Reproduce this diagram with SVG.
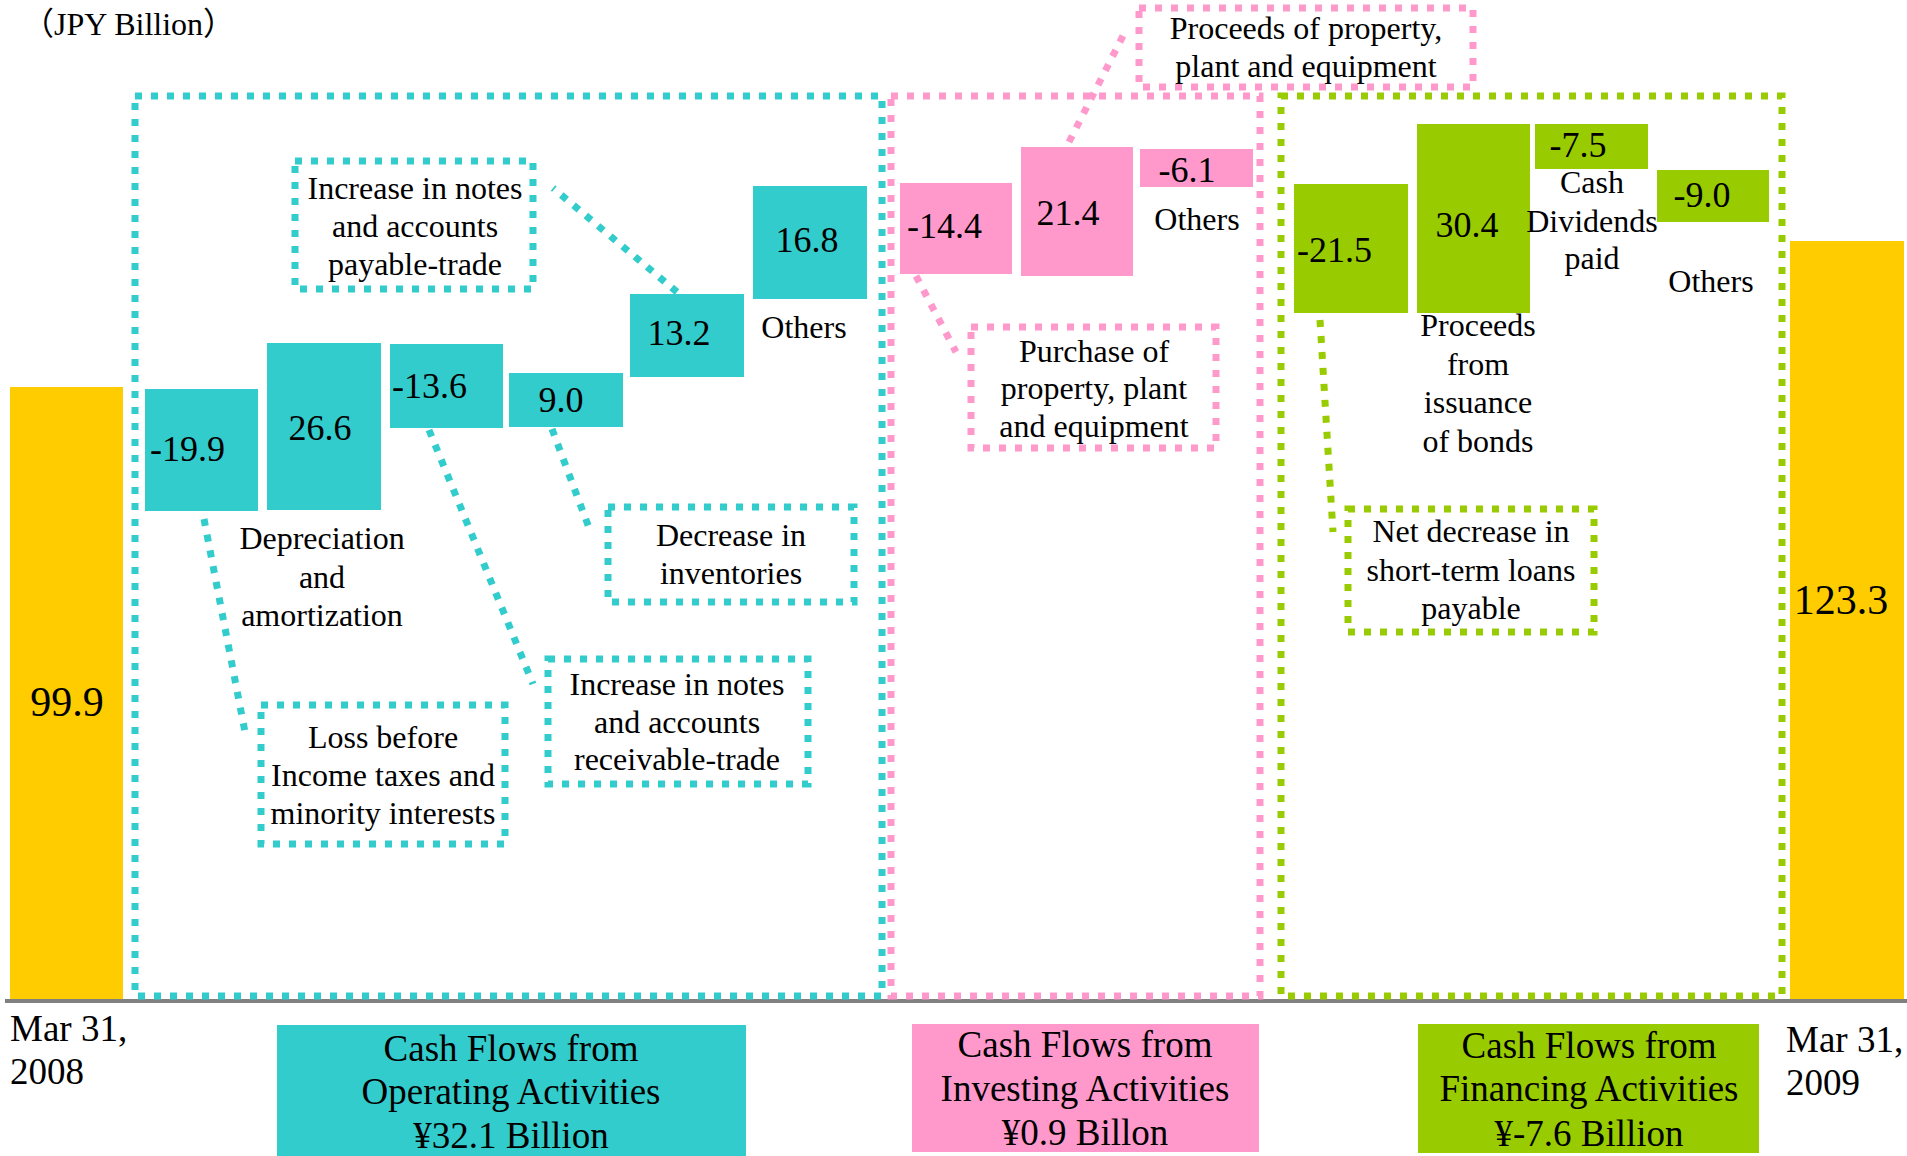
<svg xmlns="http://www.w3.org/2000/svg" width="1907" height="1156" viewBox="0 0 1907 1156">
<style>
text{font-family:"Liberation Serif","Times New Roman","Noto Sans CJK JP",serif;fill:#000}
.l{font-size:32px;text-anchor:middle}
.n{font-size:36px}
.c{text-anchor:middle}
.big{font-size:42px;text-anchor:middle}
.b{font-size:37px}
.dt{fill:none;stroke-width:7;stroke-dasharray:7 9}
.tl{stroke:#33CCCC}.pk{stroke:#FF99CC}.gr{stroke:#99CC00}
.ft{fill:#33CCCC}.fp{fill:#FF99CC}.fg{fill:#99CC00}.fy{fill:#FFCC00}
</style>
<rect width="1907" height="1156" fill="#fff"/>
<text x="22" y="35" style="font-size:32px">（JPY Billion）</text>

<g id="start-bar">
<rect class="fy" x="10" y="387" width="113" height="613"/>
<text class="big" x="67" y="716">99.9</text>
</g>
<g id="end-bar">
<rect class="fy" x="1790" y="241" width="114" height="759"/>
<text class="big" x="1841" y="614">123.3</text>
</g>
<line x1="5" y1="1001" x2="1907" y2="1001" stroke="#808080" stroke-width="4"/>

<g id="operating-frame"><rect class="dt tl" x="135" y="96" width="747" height="900"/></g>
<g id="investing-frame"><rect class="dt pk" x="891" y="96" width="369" height="900"/></g>
<g id="financing-frame"><rect class="dt gr" x="1281" y="96" width="501" height="900"/></g>

<g id="op-loss"><rect class="ft" x="145" y="389" width="113" height="122"/><text class="n" x="150" y="461">-19.9</text></g>
<g id="op-dep"><rect class="ft" x="267" y="343" width="114" height="167"/><text class="n c" x="320" y="440">26.6</text>
<text class="l" x="322" y="549">Depreciation</text><text class="l" x="322" y="588">and</text><text class="l" x="322" y="626">amortization</text></g>
<g id="op-recv"><rect class="ft" x="390" y="344" width="113" height="84"/><text class="n" x="392" y="398">-13.6</text></g>
<g id="op-inv"><rect class="ft" x="509" y="373" width="114" height="54"/><text class="n c" x="561" y="412">9.0</text></g>
<g id="op-pay"><rect class="ft" x="630" y="294" width="114" height="83"/><text class="n c" x="679" y="345">13.2</text></g>
<g id="op-others"><rect class="ft" x="753" y="186" width="114" height="113"/><text class="n c" x="807" y="252">16.8</text>
<text class="l" x="804" y="338">Others</text></g>

<g id="lbl-payable"><rect class="dt tl" x="295" y="161" width="238" height="128"/>
<text class="l" x="415" y="199">Increase in notes</text><text class="l" x="415" y="237">and accounts</text><text class="l" x="415" y="275">payable-trade</text></g>
<g id="lbl-loss"><rect class="dt tl" x="261" y="705" width="244" height="139"/>
<text class="l" x="383" y="748">Loss before</text><text class="l" x="383" y="786">Income taxes and</text><text class="l" x="383" y="824">minority interests</text></g>
<g id="lbl-recv"><rect class="dt tl" x="548" y="659" width="260" height="125"/>
<text class="l" x="677" y="695">Increase in notes</text><text class="l" x="677" y="733">and accounts</text><text class="l" x="677" y="770">receivable-trade</text></g>
<g id="lbl-inv"><rect class="dt tl" x="608" y="507" width="246" height="95"/>
<text class="l" x="731" y="546">Decrease in</text><text class="l" x="731" y="584">inventories</text></g>

<g id="inv-purchase"><rect class="fp" x="900" y="183" width="112" height="91"/><text class="n" x="907" y="238">-14.4</text></g>
<g id="inv-proceeds"><rect class="fp" x="1021" y="147" width="112" height="129"/><text class="n c" x="1068" y="225">21.4</text></g>
<g id="inv-others"><rect class="fp" x="1140" y="149" width="113" height="38"/><text class="n c" x="1187" y="182">-6.1</text>
<text class="l" x="1197" y="230">Others</text></g>
<g id="lbl-purchase"><rect class="dt pk" x="971" y="327" width="245" height="121"/>
<text class="l" x="1094" y="362">Purchase of</text><text class="l" x="1094" y="399">property, plant</text><text class="l" x="1094" y="437">and equipment</text></g>
<g id="lbl-proceeds"><rect class="dt pk" x="1139" y="8" width="334" height="79"/>
<text class="l" x="1306" y="39">Proceeds of property,</text><text class="l" x="1306" y="77">plant and equipment</text></g>

<g id="fin-loans"><rect class="fg" x="1294" y="184" width="114" height="129"/><text class="n" x="1297" y="262">-21.5</text></g>
<g id="fin-bonds"><rect class="fg" x="1417" y="124" width="113" height="189"/><text class="n c" x="1467" y="237">30.4</text>
<text class="l" x="1478" y="336">Proceeds</text><text class="l" x="1478" y="375">from</text><text class="l" x="1478" y="413">issuance</text><text class="l" x="1478" y="452">of bonds</text></g>
<g id="fin-div"><rect class="fg" x="1535" y="124" width="113" height="45"/><text class="n c" x="1578" y="157">-7.5</text>
<text class="l" x="1592" y="193">Cash</text><text class="l" x="1592" y="232">Dividends</text><text class="l" x="1592" y="269">paid</text></g>
<g id="fin-others"><rect class="fg" x="1657" y="170" width="112" height="52"/><text class="n c" x="1702" y="207">-9.0</text>
<text class="l" x="1711" y="292">Others</text></g>
<g id="lbl-loans"><rect class="dt gr" x="1348" y="509" width="246" height="123"/>
<text class="l" x="1471" y="542">Net decrease in</text><text class="l" x="1471" y="581">short-term loans</text><text class="l" x="1471" y="619">payable</text></g>

<g id="connectors" fill="none">
<line class="dt tl" x1="204" y1="519" x2="245" y2="732"/>
<line class="dt tl" x1="429" y1="430" x2="533" y2="684"/>
<line class="dt tl" x1="552" y1="429" x2="591" y2="533"/>
<line class="dt tl" x1="677" y1="292" x2="553" y2="188"/>
<line class="dt pk" x1="916" y1="276" x2="956" y2="352"/>
<line class="dt pk" x1="1069" y1="142" x2="1125" y2="32"/>
<line class="dt gr" x1="1320" y1="320" x2="1333" y2="532"/>
</g>

<g id="date-start"><text class="b" x="10" y="1041">Mar 31,</text><text class="b" x="10" y="1084">2008</text></g>
<g id="date-end"><text class="b" x="1786" y="1052">Mar 31,</text><text class="b" x="1786" y="1095">2009</text></g>
<g id="legend-operating"><rect class="ft" x="277" y="1025" width="469" height="140"/>
<text class="b c" x="511" y="1061">Cash Flows from</text><text class="b c" x="511" y="1104">Operating Activities</text><text class="b c" x="511" y="1148">¥32.1 Billion</text></g>
<g id="legend-investing"><rect class="fp" x="912" y="1024" width="347" height="128"/>
<text class="b c" x="1085" y="1057">Cash Flows from</text><text class="b c" x="1085" y="1101">Investing Activities</text><text class="b c" x="1085" y="1145">¥0.9 Billon</text></g>
<g id="legend-financing"><rect class="fg" x="1418" y="1024" width="341" height="129"/>
<text class="b c" x="1589" y="1058">Cash Flows from</text><text class="b c" x="1589" y="1101">Financing Activities</text><text class="b c" x="1589" y="1146">¥-7.6 Billion</text></g>
</svg>
